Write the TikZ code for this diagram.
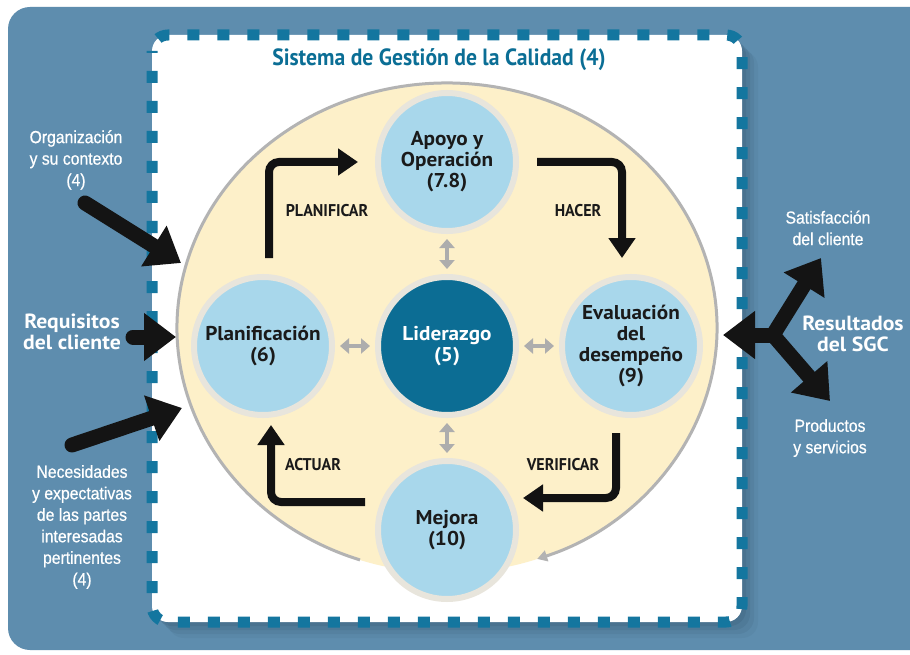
\documentclass[tikz,border=0pt]{standalone}
\usepackage{fontspec}
\setmainfont{PT Sans}
\newfontfamily\stagefont{PT Sans}[FakeStretch=1.06]
\newfontfamily\titlefont{PT Sans}[FakeStretch=0.92]
\newfontfamily\lblfont{PT Sans}[FakeStretch=0.94]
\newfontfamily\condfont{Liberation Sans}[FakeStretch=0.9, FakeBold=0.6]
\usetikzlibrary{arrows.meta, positioning, calc, shapes.geometric}
\definecolor{cPanel}{HTML}{5E8DAE}
\definecolor{cDash}{HTML}{14769F}
\definecolor{cShadow}{HTML}{33536B}
\definecolor{cCream}{HTML}{FDF0C9}
\definecolor{cRim}{HTML}{B3B3B3}
\definecolor{cSky}{HTML}{A8D7EB}
\definecolor{cHalo}{HTML}{E8E5DC}
\definecolor{cDeep}{HTML}{0C6D94}
\definecolor{cInk}{HTML}{1A1A1A}
\definecolor{cLink}{HTML}{ADADAD}
\definecolor{cTitle}{HTML}{0B6E95}

\begin{document}
\begin{tikzpicture}[
    x=1pt, y=-1pt,
    node distance=40pt,
    stage/.style={circle, draw=cHalo, line width=6pt, fill=#1, minimum size=138pt,
                  inner sep=0pt, align=center, text=cInk,
                  font=\stagefont\fontsize{20}{21}\selectfont\bfseries},
    stage/.default=cSky,
    proc/.style={-{Triangle[width=26pt,length=20pt]}, line width=8pt,
                 rounded corners=10pt, draw=black!93},
    link/.style={{Triangle[width=15pt,length=9pt]}-{Triangle[width=15pt,length=9pt]},
                 line width=4pt, draw=cLink, shorten <=5pt, shorten >=5pt},
    feed/.style={-{Triangle[width=46pt,length=32pt]}, line width=15pt,
                 draw=black!92, line cap=round},
    lbl/.style={font=\lblfont\fontsize{17}{17}\selectfont\bfseries, text=cInk},
    side/.style={font=\condfont\fontsize{17.5}{21.5}\selectfont, text=white, align=center},
    key/.style={font=\stagefont\fontsize{20.5}{20.5}\selectfont\bfseries, text=white,
                align=center},
  ]
  \useasboundingbox (0,0) rectangle (910,655);
  \clip (0,0) rectangle (910,655);
  \fill[white] (0,0) rectangle (910,655);

  % ── PANEL ──
  \fill[cPanel, rounded corners=22pt] (8,7) rectangle (950,650);

  % ── QMS FRAME ──
  \foreach \s/\o in {16/0.08, 12/0.12, 8/0.15, 4/0.18}
    \fill[cShadow, opacity=\o, rounded corners=16pt]
      (152+\s,35+\s) rectangle (742+\s,622+\s);
  \fill[white, rounded corners=16pt] (152,35) rectangle (742,622);
  \draw[cDash, line width=11pt, dash pattern=on 12pt off 18pt, dash phase=-20pt,
        rounded corners=16pt] (152,35) rectangle (742,622);
  \node[font=\titlefont\fontsize{23.5}{23.5}\selectfont\bfseries, text=cTitle] (title)
    at (439,60) {Sistema de Gestión de la Calidad (4)};

  % ── PDCA ──
  \node[ellipse, fill=cCream, minimum width=540pt, minimum height=490pt,
        inner sep=0pt] (pdca) at (447,328) {};
  \draw[cRim, line width=3pt, -{Triangle[width=11pt,length=10pt]}]
    (pdca.center) ++(108.8:270 and 245)
    arc[start angle=108.8, end angle=430.5, x radius=270, y radius=245];

  % ── STAGES ──
  \node[stage=cDeep, text=white] (lider) at (447,346) {Liderazgo\\(5)};
  \node[stage, above=of lider] (apoyo) {Apoyo y\\Operación\\(7.8)};
  \node[stage, left=of lider] (plan) {Planificación\\(6)};
  \node[stage, right=of lider] (eval) {Evaluación\\del\\desempeño\\(9)};
  \node[stage, below=of lider] (mejora) {Mejora\\(10)};

  \draw[link] (apoyo) -- (lider);
  \draw[link] (plan) -- (lider);
  \draw[link] (lider) -- (eval);
  \draw[link] (lider) -- (mejora);

  % ── CYCLE ──
  \draw[proc, shorten <=16pt, shorten >=17pt]
    ([xshift=6pt]plan.north) |- (apoyo);
  \draw[proc, shorten <=18pt, shorten >=16pt]
    (apoyo) -| ([xshift=-9pt]eval.north);
  \draw[proc, shorten <=15pt, shorten >=4pt]
    ([xshift=-15pt]eval.south) |- ([yshift=32pt]mejora.east);
  \draw[proc, shorten <=10pt, shorten >=7pt]
    ([yshift=28pt]mejora.west) -| ([xshift=8pt]plan.south);

  \node[lbl] (planificar) at (327,211) {PLANIFICAR};
  \node[lbl] (hacer) at (578,211) {HACER};
  \node[lbl] (verificar) at (563,465) {VERIFICAR};
  \node[lbl] (actuar) at (313,465) {ACTUAR};

  % ── INPUTS ──
  \node[side] (ctx) at (76,160) {Organización\\y su contexto\\(4)};
  \node[key] (req) at (72,332) {Requisitos\\del cliente};
  \node[side] (needs) at (82,527)
    {Necesidades\\y expectativas\\de las partes\\interesadas\\pertinentes\\(4)};
  \coordinate (ctx-a) at (85,203);
  \coordinate (ctx-b) at (181,263);
  \coordinate (req-a) at (133,337);
  \coordinate (req-b) at (176,337);
  \coordinate (needs-a) at (72,445);
  \coordinate (needs-b) at (182,408);
  \draw[feed] (ctx-a) -- (ctx-b);
  \draw[feed] (req-a) -- (req-b);
  \draw[feed] (needs-a) -- (needs-b);

  % ── OUTPUTS ──
  \node[key] (sgc) at (853,334) {Resultados\\del SGC};
  \node[side] (satis) at (828,228) {Satisfacción\\del cliente};
  \node[side] (prod) at (830,438) {Productos\\y servicios};
  \coordinate (hub) at (773,335);
  \coordinate (out-l) at (723,335);
  \coordinate (out-u) at (821,258);
  \coordinate (out-d) at (830,401);
  \draw[feed] (hub) -- (out-l);
  \draw[feed] (hub) -- (out-u);
  \draw[feed] (hub) -- (out-d);
\end{tikzpicture}
\end{document}
